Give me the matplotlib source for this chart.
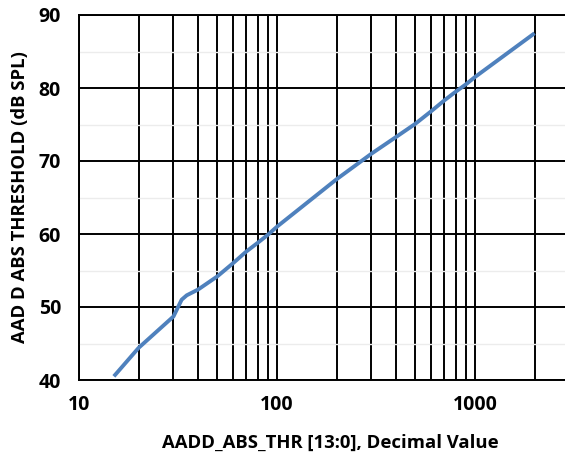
import matplotlib
matplotlib.use('Agg')
import matplotlib.pyplot as plt
from matplotlib.ticker import FixedLocator, NullFormatter

# Data
thr_code = [15, 20, 30, 33, 35, 40, 50, 60, 70, 80, 90, 100,
            200, 300, 400, 500, 600, 700, 800, 900, 1000, 2000]
thr_db = [40.5, 44.4, 48.7, 51.0, 51.6, 52.4, 54.2, 56.0, 57.6, 58.8, 59.9, 61.0,
          67.5, 71.0, 73.3, 75.1, 76.8, 78.3, 79.5, 80.5, 81.5, 87.5]

x_major = [10, 100, 1000]
x_minor = [20, 30, 40, 50, 60, 70, 80, 90,
           200, 300, 400, 500, 600, 700, 800, 900, 2000]
y_major = [40, 50, 60, 70, 80, 90]
y_minor = [45, 55, 65, 75, 85]

plt.rcParams['font.family'] = ['Open Sans', 'DejaVu Sans']
plt.rcParams['font.weight'] = 'bold'

fig = plt.figure(figsize=(5.65, 4.59), dpi=100)
ax = fig.add_axes([79 / 565, 1 - 380 / 459, 1 - 79 / 565, (380 - 15) / 459])

ax.set_xscale('log')
ax.set_xlim(10, 2850)
ax.set_ylim(40, 90)

ax.xaxis.set_major_locator(FixedLocator(x_major))
ax.xaxis.set_minor_locator(FixedLocator(x_minor))
ax.xaxis.set_minor_formatter(NullFormatter())
ax.set_xticklabels([str(v) for v in x_major])
ax.yaxis.set_major_locator(FixedLocator(y_major))
ax.yaxis.set_minor_locator(FixedLocator(y_minor))

ax.grid(True, which='major', color='black', linewidth=1.4)
ax.grid(True, which='minor', axis='x', color='black', linewidth=1.4)
ax.grid(True, which='minor', axis='y', color='#ececec', linewidth=1.0)
ax.set_axisbelow(True)

ax.tick_params(which='both', length=0, labelsize=14)
ax.tick_params(axis='y', pad=13)
ax.tick_params(axis='x', pad=11)
for lbl in ax.get_xticklabels() + ax.get_yticklabels():
    lbl.set_fontweight('bold')

for side in ['top', 'left', 'bottom']:
    ax.spines[side].set_linewidth(1.4)
ax.spines['right'].set_visible(False)

ax.plot(thr_code, thr_db, color='#4F81BD', linewidth=2.8, solid_capstyle='butt')

fig.text(330 / 565, 1 - 443 / 459, 'AADD_ABS_THR [13:0], Decimal Value',
         ha='center', va='center', fontsize=13.3, fontweight='bold')
fig.text(20 / 565, 1 - 197 / 459, 'AAD D ABS THRESHOLD (dB SPL)',
         ha='center', va='center', rotation=90, fontsize=13.3, fontweight='bold')

fig.savefig('out.png', dpi=100)
